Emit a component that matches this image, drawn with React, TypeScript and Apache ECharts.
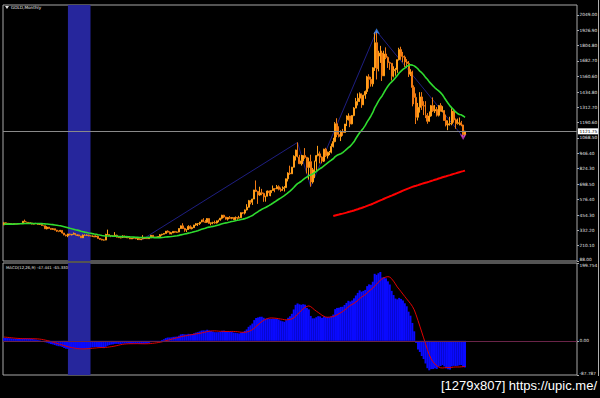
import { useEffect, useRef } from "react";
import * as echarts from "echarts";

// first visible monthly bar: 1995.03 ; last: 2015.08
const START_YEAR = 1995;
const START_MONTH = 3;
const FUTURE_SLOTS = 59;

// closes before the visible window (1993.03 - 1995.02), used by the moving averages
const preCloses = [337, 354, 377, 378, 401, 371, 355, 369, 371, 391, 377, 381, 390, 376, 387, 388, 384, 386, 394, 389, 383, 383, 375, 376];

const opens = [
  376, 392, 389, 385, 387, 383, 382, 384, 383, 387,
  387, 405, 400, 396, 392, 391, 382, 385, 387, 379, 379, 371,
  369, 345, 358, 348, 340, 345, 334, 326, 325, 332, 311, 296,
  290, 303, 297, 301, 308, 293, 296, 288, 273, 293, 292, 294,
  288, 287, 287, 280, 286, 268, 261, 255, 255, 299, 299, 292,
  290, 283, 293, 278, 274, 272, 288, 276, 278, 273, 264, 270,
  274, 266, 267, 258, 264, 267, 270, 266, 273, 293, 279, 275,
  279, 282, 297, 302, 308, 326, 318, 305, 312, 324, 317, 319,
  347, 368, 347, 334, 339, 364, 346, 354, 375, 385, 386, 398,
  416, 400, 397, 426, 388, 393, 395, 391, 408, 415, 429, 453,
  438, 422, 435, 428, 435, 417, 435, 430, 433, 473, 470, 495,
  517, 569, 556, 582, 654, 643, 614, 632, 626, 599, 604, 646,
  632, 650, 665, 663, 680, 659, 650, 665, 673, 743, 789, 783,
  836, 923, 972, 916, 864, 886, 928, 914, 834, 880, 718, 815,
  884, 928, 942, 916, 884, 979, 927, 955, 955, 1001, 1040, 1182,
  1096, 1081, 1118, 1113, 1180, 1213, 1244, 1181, 1248, 1307, 1359, 1386,
  1421, 1333, 1410, 1439, 1556, 1536, 1500, 1628, 1828, 1620, 1722, 1746,
  1564, 1738, 1711, 1669, 1664, 1561, 1604, 1614, 1693, 1773, 1719, 1713,
  1675, 1663, 1578, 1595, 1472, 1392, 1234, 1313, 1396, 1326, 1323, 1250,
  1202, 1244, 1326, 1284, 1296, 1250, 1327, 1282, 1287, 1208, 1172, 1182,
  1184, 1283, 1213, 1183, 1184, 1190, 1172, 1095,
];

const highs = [
  396, 396, 390, 390, 389, 388, 387, 386, 389, 390,
  407, 418, 402, 397, 395, 392, 389, 392, 388, 385, 383, 373,
  370, 365, 359, 349, 350, 346, 336, 330, 336, 333, 312, 298,
  305, 306, 303, 315, 309, 299, 298, 289, 300, 303, 300, 298,
  294, 291, 290, 292, 290, 270, 265, 259, 305, 338, 300, 293,
  292, 318, 298, 283, 280, 294, 291, 281, 279, 275, 272, 276,
  275, 268, 268, 265, 294, 274, 272, 279, 295, 293, 282, 281,
  287, 303, 304, 310, 327, 332, 324, 316, 326, 325, 323, 349,
  371, 389, 353, 341, 373, 372, 362, 376, 390, 391, 399, 417,
  429, 416, 430, 428, 394, 401, 410, 410, 418, 432, 456, 456,
  440, 439, 446, 438, 436, 443, 436, 448, 476, 478, 498, 541,
  575, 574, 584, 655, 730, 645, 680, 663, 633, 608, 650, 649,
  652, 690, 669, 694, 691, 674, 683, 685, 745, 795, 848, 838,
  930, 975, 1033, 934, 934, 933, 988, 918, 912, 935, 830, 888,
  932, 1006, 961, 921, 983, 990, 960, 965, 1024, 1070, 1195, 1226,
  1162, 1129, 1141, 1180, 1249, 1265, 1245, 1250, 1314, 1388, 1424, 1432,
  1424, 1413, 1447, 1564, 1577, 1556, 1632, 1911, 1920, 1764, 1803, 1764,
  1764, 1791, 1719, 1677, 1666, 1640, 1627, 1693, 1788, 1796, 1755, 1726,
  1697, 1682, 1617, 1605, 1488, 1424, 1348, 1434, 1434, 1362, 1362, 1267,
  1280, 1332, 1392, 1331, 1315, 1332, 1346, 1322, 1290, 1255, 1209, 1238,
  1307, 1290, 1224, 1224, 1232, 1205, 1175, 1126,
];

const lows = [
  374, 387, 381, 383, 382, 380, 381, 381, 382, 385,
  386, 397, 394, 389, 389, 380, 380, 384, 377, 377, 368, 365,
  343, 340, 345, 337, 339, 333, 320, 318, 320, 307, 293, 284,
  278, 293, 292, 299, 292, 287, 286, 271, 272, 287, 291, 285,
  283, 281, 278, 279, 267, 257, 253, 252, 254, 296, 287, 278,
  280, 283, 276, 272, 269, 271, 275, 270, 270, 263, 263, 267,
  262, 255, 256, 255, 263, 265, 264, 265, 271, 278, 271, 273,
  277, 281, 290, 299, 307, 315, 301, 300, 311, 312, 315, 317,
  344, 343, 321, 319, 335, 342, 340, 351, 369, 367, 375, 396,
  399, 391, 392, 385, 372, 381, 385, 387, 397, 410, 420, 430,
  418, 411, 424, 421, 414, 413, 416, 427, 431, 462, 459, 491,
  514, 540, 535, 581, 640, 543, 608, 612, 560, 561, 604, 607,
  604, 648, 636, 662, 651, 640, 649, 642, 671, 722, 775, 782,
  834, 889, 914, 860, 849, 860, 903, 786, 737, 681, 705, 750,
  800, 922, 866, 866, 877, 918, 905, 932, 946, 993, 1034, 1075,
  1073, 1044, 1086, 1111, 1164, 1208, 1155, 1177, 1242, 1306, 1328, 1356,
  1309, 1331, 1381, 1418, 1462, 1478, 1478, 1603, 1535, 1600, 1667, 1523,
  1563, 1697, 1627, 1612, 1527, 1552, 1565, 1588, 1686, 1692, 1672, 1635,
  1626, 1555, 1562, 1321, 1338, 1180, 1208, 1271, 1292, 1251, 1227, 1182,
  1199, 1238, 1277, 1268, 1240, 1240, 1280, 1273, 1206, 1161, 1131, 1167,
  1170, 1191, 1142, 1175, 1169, 1162, 1077, 1080,
];

const closes = [
  392, 389, 385, 387, 383, 382, 384, 383, 387, 387,
  405, 400, 396, 392, 391, 382, 385, 387, 379, 379, 371, 369,
  345, 358, 348, 340, 345, 334, 326, 325, 332, 311, 296, 290,
  303, 297, 301, 308, 293, 296, 288, 273, 293, 292, 294, 288,
  287, 287, 280, 286, 268, 261, 255, 255, 299, 299, 292, 290,
  283, 293, 278, 274, 272, 288, 276, 278, 273, 264, 270, 274,
  266, 267, 258, 264, 267, 270, 266, 273, 293, 279, 275, 279,
  282, 297, 302, 308, 326, 318, 305, 312, 324, 317, 319, 347,
  368, 347, 334, 339, 364, 346, 354, 375, 385, 386, 398, 416,
  400, 397, 426, 388, 393, 395, 391, 408, 415, 429, 453, 438,
  422, 435, 428, 435, 417, 435, 430, 433, 473, 470, 495, 517,
  569, 556, 582, 654, 643, 614, 632, 626, 599, 604, 646, 632,
  650, 665, 663, 680, 659, 650, 665, 673, 743, 789, 783, 836,
  923, 972, 916, 864, 886, 928, 914, 834, 880, 718, 815, 884,
  928, 942, 916, 884, 979, 927, 955, 955, 1001, 1040, 1182, 1096,
  1081, 1118, 1113, 1180, 1213, 1244, 1181, 1248, 1307, 1359, 1386, 1421,
  1333, 1410, 1439, 1556, 1536, 1500, 1628, 1828, 1620, 1722, 1746, 1564,
  1738, 1711, 1669, 1664, 1561, 1604, 1614, 1693, 1773, 1719, 1713, 1675,
  1663, 1578, 1595, 1472, 1392, 1234, 1313, 1396, 1326, 1323, 1250, 1202,
  1244, 1326, 1284, 1296, 1250, 1327, 1282, 1287, 1208, 1172, 1182, 1184,
  1283, 1213, 1183, 1184, 1190, 1172, 1095, 1121.75,
];

// ZigZag pivots (month, price)
const zigzagMonths = ["2001.04", "2008.03", "2008.10", "2011.09", "2015.07"];
const zigzagPrices = [255, 1033, 681, 1920, 1077];

// highlighted period (blue band)
const bandMonths = ["1998.01", "1999.01"];

// axis tick labels (ascending)
const priceTicks = [88.0, 210.1, 332.2, 454.3, 576.4, 698.5, 824.3, 946.4, 1068.5, 1190.6, 1312.7, 1434.8, 1560.6, 1682.7, 1804.8, 1926.9, 2049.0];
const priceMin = 88;
const priceMax = 2128.7;
const macdTicks = [-87.787, 0, 199.754];
const macdMin = -87.787;
const macdMax = 199.754;
const macdLabel = "MACD(12,26,9) -47.441 -65.330";
const titleText = "GOLD,Monthly";
const watermark = "[1279x807] https://upic.me/";

function monthLabel(i: number) {
  const m = START_MONTH - 1 + i;
  return `${START_YEAR + Math.floor(m / 12)}.${String((m % 12) + 1).padStart(2, "0")}`;
}

function sma(v: number[], n: number): (number | null)[] {
  return v.map((_, i) => {
    if (i < n - 1) return null;
    let s = 0;
    for (let k = i - n + 1; k <= i; k++) s += v[k];
    return s / n;
  });
}

function ema(v: number[], n: number): number[] {
  const a = 2 / (n + 1);
  const out: number[] = [];
  v.forEach((x, i) => out.push(i === 0 ? x : a * x + (1 - a) * out[i - 1]));
  return out;
}

export default function App() {
  const ref = useRef<HTMLDivElement>(null);

  useEffect(() => {
    if (!ref.current) return;
    const chart = echarts.init(ref.current, null, { renderer: "svg" });

    const n = closes.length;
    const categories = Array.from({ length: n + FUTURE_SLOTS }, (_, i) => monthLabel(i));
    const pre = preCloses.length;
    const all = [...preCloses, ...closes];
    const ma24 = sma(all, 24).slice(pre);
    const ma200 = sma(all, 200).slice(pre);
    const e12 = ema(all, 12);
    const e26 = ema(all, 26);
    const macdAll = e12.map((v, i) => v - e26[i]);
    const sigAll = sma(macdAll, 9);
    const macd = macdAll.slice(pre);
    const signal = sigAll.slice(pre);

    const candles = opens.map((o, i) => [o, closes[i], lows[i], highs[i]]);
    const zig = categories.slice(0, n).map((c) => {
      const k = zigzagMonths.indexOf(c);
      return k >= 0 ? zigzagPrices[k] : null;
    });
    const blank = categories.map(() => null);

    const font = "DejaVu Sans";

    const bandArea = {
      silent: true,
      itemStyle: { color: "#26269c", opacity: 1 },
      data: [[{ xAxis: bandMonths[0] }, { xAxis: bandMonths[1] }]],
    };

    const axisLabelBase = {
      color: "#e4e4e4",
      fontSize: 4.3,
      fontFamily: font,
      margin: 2.5,
    };

    const option: any = {
      animation: false,
      backgroundColor: "#000",
      grid: [
        { left: 3, top: 5, width: 574, height: 256, show: true, borderColor: "#a8a8a8", borderWidth: 1, backgroundColor: "#000", containLabel: false, outerBoundsMode: "none" },
        { left: 3, top: 263, width: 574, height: 112, show: true, borderColor: "#a8a8a8", borderWidth: 1, backgroundColor: "#000", containLabel: false, outerBoundsMode: "none" },
      ],
      xAxis: [0, 1].map((g) => ({
        type: "category",
        gridIndex: g,
        data: categories,
        boundaryGap: true,
        axisLine: { show: false },
        axisTick: { show: false },
        axisLabel: { show: false },
        splitLine: { show: false },
      })),
      yAxis: [
        {
          type: "value",
          gridIndex: 0,
          position: "right",
          min: priceMin,
          max: priceMax,
          axisLine: { show: false },
          splitLine: { show: false },
          axisTick: { show: true, customValues: priceTicks, length: 2, lineStyle: { color: "#a8a8a8" } },
          axisLabel: {
            ...axisLabelBase,
            customValues: priceTicks,
            verticalAlignMinLabel: "bottom",
            formatter: (v: number) => v.toFixed(2),
          },
        },
        {
          type: "value",
          gridIndex: 1,
          position: "right",
          min: macdMin,
          max: macdMax,
          axisLine: { show: false },
          splitLine: { show: false },
          axisTick: { show: true, customValues: macdTicks, length: 2, lineStyle: { color: "#a8a8a8" } },
          axisLabel: {
            ...axisLabelBase,
            customValues: macdTicks,
            verticalAlignMaxLabel: "top",
            verticalAlignMinLabel: "bottom",
            formatter: (v: number) => (v === 0 ? "0.00" : String(v)),
          },
        },
      ],
      series: [
        {
          type: "candlestick",
          xAxisIndex: 0,
          yAxisIndex: 0,
          data: candles,
          barWidth: 1.4,
          z: 3,
          itemStyle: {
            color: "#ffc81e",
            color0: "#f07a12",
            borderColor: "#ff9e1a",
            borderColor0: "#f07a12",
            borderWidth: 1,
          },
          markLine: {
            silent: true,
            symbol: ["none", "none"],
            lineStyle: { color: "#8a8a8a", width: 1, type: "solid" },
            label: {
              show: true,
              position: "end",
              distance: 1,
              formatter: () => closes[n - 1].toFixed(2),
              backgroundColor: "#ffffff",
              color: "#000",
              fontSize: 4.3,
              fontFamily: font,
              padding: [1, 1.5],
            },
            data: [{ yAxis: closes[n - 1] }],
          },
        },
        {
          type: "line",
          xAxisIndex: 0,
          yAxisIndex: 0,
          data: zig,
          connectNulls: true,
          symbol: "none",
          z: 2,
          lineStyle: { color: "#1e1e80", width: 1 },
        },
        {
          type: "line",
          xAxisIndex: 0,
          yAxisIndex: 0,
          data: ma24,
          symbol: "none",
          z: 4,
          lineStyle: { color: "#2fdc2f", width: 1.6 },
        },
        {
          type: "line",
          xAxisIndex: 0,
          yAxisIndex: 0,
          data: ma200,
          symbol: "none",
          z: 4,
          lineStyle: { color: "#ff0000", width: 2 },
        },
        {
          type: "scatter",
          xAxisIndex: 0,
          yAxisIndex: 0,
          z: 6,
          symbol: "arrow",
          symbolSize: [5, 6],
          symbolOffset: [0, -3],
          itemStyle: { color: "#3f8cff" },
          data: [[zigzagMonths[3], zigzagPrices[3]]],
        },
        {
          type: "scatter",
          xAxisIndex: 0,
          yAxisIndex: 0,
          z: 6,
          symbol: "arrow",
          symbolRotate: 180,
          symbolSize: [5, 6],
          symbolOffset: [0, 3],
          itemStyle: { color: "#d040d0" },
          data: [[zigzagMonths[4], zigzagPrices[4]]],
        },
        {
          type: "line",
          xAxisIndex: 0,
          yAxisIndex: 0,
          data: blank,
          symbol: "none",
          z: 10,
          lineStyle: { opacity: 0 },
          markArea: bandArea,
        },
        {
          type: "bar",
          xAxisIndex: 1,
          yAxisIndex: 1,
          data: macd,
          barWidth: 2,
          z: 3,
          itemStyle: { color: "#0a0aff" },
          markLine: {
            silent: true,
            symbol: ["none", "none"],
            label: { show: false },
            lineStyle: { color: "#6a2448", width: 1, type: "solid" },
            data: [{ yAxis: 0 }],
          },
        },
        {
          type: "line",
          xAxisIndex: 1,
          yAxisIndex: 1,
          data: signal,
          symbol: "none",
          z: 4,
          lineStyle: { color: "#e00000", width: 1 },
        },
        {
          type: "line",
          xAxisIndex: 1,
          yAxisIndex: 1,
          data: blank,
          symbol: "none",
          z: 10,
          lineStyle: { opacity: 0 },
          markArea: bandArea,
        },
      ],
      graphic: [
        { type: "polygon", z: 20, shape: { points: [[5, 6], [9, 6], [7, 9]] }, style: { fill: "#e0e0e0" } },
        { type: "text", z: 20, left: 11, top: 5, style: { text: titleText, fill: "#ececec", fontSize: 4.2, fontFamily: font } },
        { type: "text", z: 20, left: 6, top: 265, style: { text: macdLabel, fill: "#e0e0e0", fontSize: 3.9, fontFamily: font } },
        { type: "line", z: 20, shape: { x1: 598.5, y1: 0, x2: 598.5, y2: 376 }, style: { stroke: "#b0b0b0", lineWidth: 1 } },
        { type: "text", z: 20, right: 3, top: 379, style: { text: watermark, fill: "#ffffff", fontSize: 13, fontFamily: "Liberation Sans" } },
      ],
    };

    chart.setOption(option);
    return () => chart.dispose();
  }, []);

  return (
    <div
      ref={ref}
      style={{ position: "fixed", left: 0, top: 0, width: 600, height: 398, background: "#000" }}
    />
  );
}
